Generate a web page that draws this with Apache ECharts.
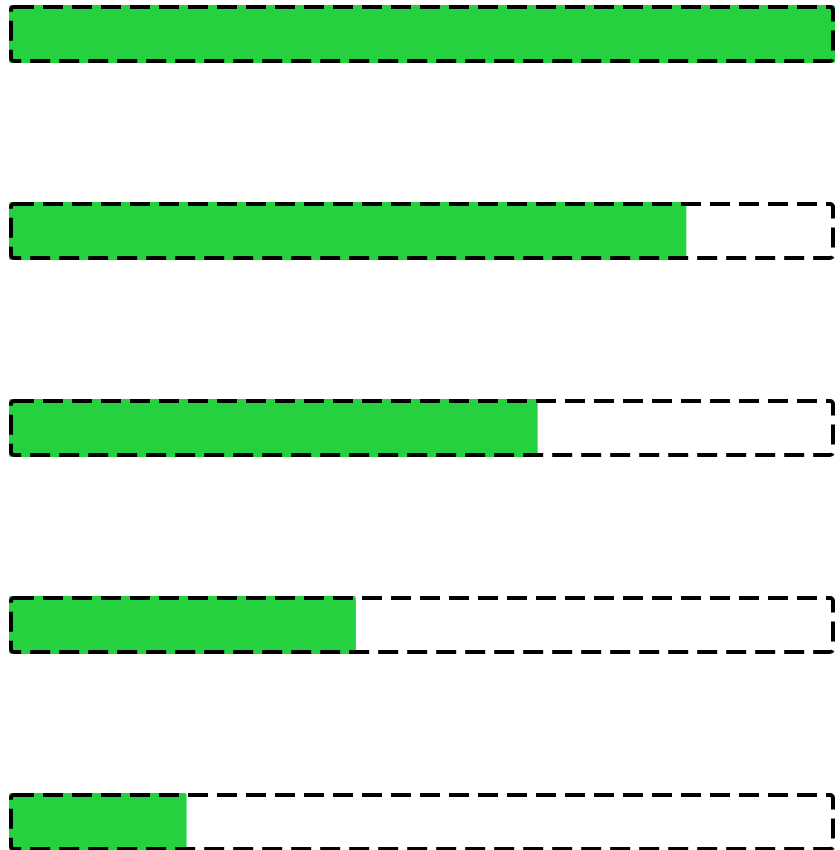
<!DOCTYPE html>
<html>
<head>
<meta charset="utf-8">
<script src="https://cdn.jsdelivr.net/npm/echarts@6/dist/echarts.min.js"></script>
<style>html,body{margin:0;padding:0;background:#fff}#c{width:840px;height:850px}</style>
</head>
<body>
<div id="c"></div>
<script>
var categories = ['A', 'B', 'C', 'D', 'E'];
var values = [100, 82, 64, 42, 21.5];
var maxValues = [100, 100, 100, 100, 100];

var chart = echarts.init(document.getElementById('c'), null, {renderer: 'canvas'});
chart.setOption({
  animation: false,
  backgroundColor: '#ffffff',
  grid: {left: 9, right: 5, top: 34, bottom: 28},
  xAxis: {type: 'value', min: 0, max: 100, show: false},
  yAxis: {type: 'category', data: categories, inverse: true, boundaryGap: false, show: false},
  series: [
    {
      type: 'bar', data: values, barWidth: 58, clip: false, z: 2,
      itemStyle: {color: '#26d13f', borderRadius: 2}
    },
    {
      type: 'bar', data: maxValues, barWidth: 58, barGap: '-100%', clip: false, z: 3,
      silent: true,
      itemStyle: {color: 'transparent', borderColor: '#000', borderWidth: 4,
                  borderType: [20, 9], borderRadius: 3}
    }
  ]
});
</script>
</body>
</html>
